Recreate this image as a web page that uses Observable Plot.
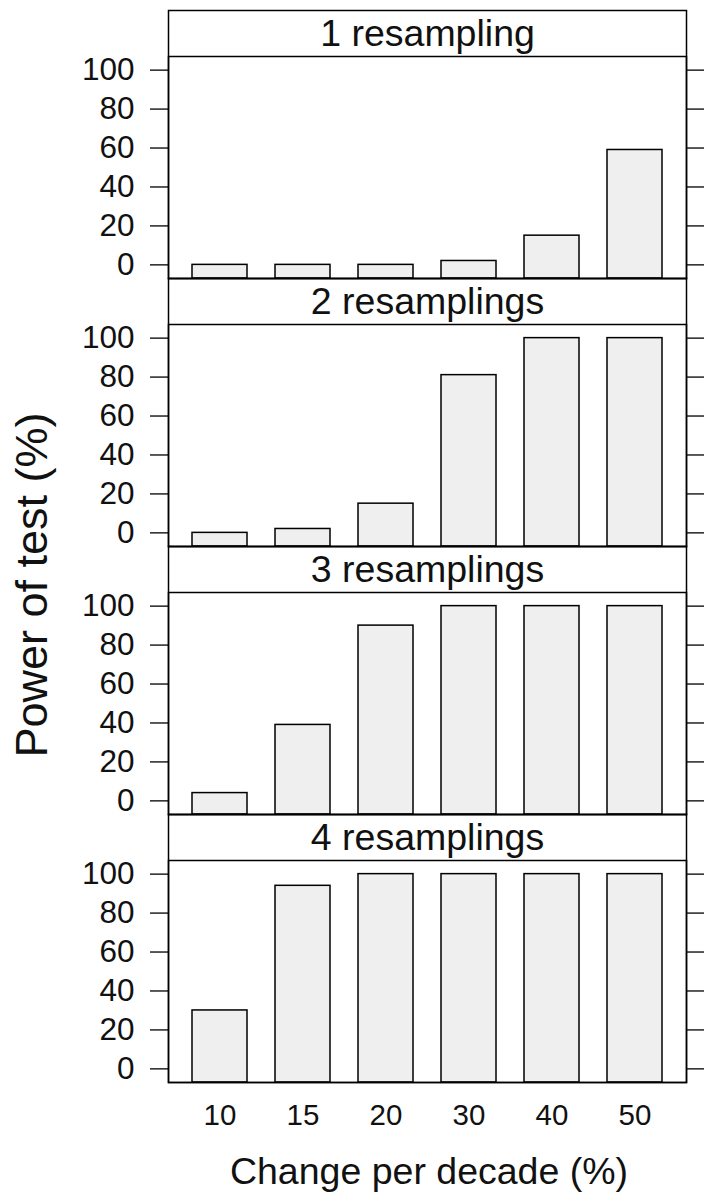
<!DOCTYPE html>
<html>
<head>
<meta charset="utf-8">
<script src="https://cdn.jsdelivr.net/npm/d3@7"></script>
<script src="https://cdn.jsdelivr.net/npm/@observablehq/plot@0.6"></script>
<style>
  body { margin: 0; background: #fff; }
  #chart { width: 704px; height: 1195px; }
</style>
</head>
<body>
<div id="chart"></div>
<script>
// Change per decade (%) categories
const changes = ["10", "15", "20", "30", "40", "50"];
// Panel strip labels, top to bottom
const panels = ["1 resampling", "2 resamplings", "3 resamplings", "4 resamplings"];
// Power of test (%) for each number of resamplings
const power1 = [0, 0, 0, 2, 15, 59];
const power2 = [0, 2, 15, 81, 100, 100];
const power3 = [4, 39, 90, 100, 100, 100];
const power4 = [30, 94, 100, 100, 100, 100];
// Y axis ticks and padded panel limits
const yTicks = [0, 20, 40, 60, 80, 100];
const yLimits = [-7, 107];

const series = [power1, power2, power3, power4];
const rows = panels.flatMap((panel, i) =>
  changes.map((change, j) => ({panel, change, power: series[i][j]}))
);

const font = "'Liberation Sans', Arial, sans-serif";

const chart = Plot.plot({
  width: 704,
  height: 1195,
  marginLeft: 168,
  marginRight: 18,
  marginTop: 54,
  marginBottom: 112,
  style: {fontFamily: font, fontSize: "30px", color: "#111", background: "#fff"},
  x: {domain: changes, paddingInner: 1 / 3, paddingOuter: 0.2667, align: 0.5},
  y: {domain: yLimits},
  fy: {domain: panels, paddingInner: 0.1717, paddingOuter: 0, axis: null},
  marks: [
    // bars rise from the lower panel limit, lattice style
    Plot.barY(rows, {
      x: "change", y1: yLimits[0], y2: "power", fy: "panel",
      fill: "#efefef", stroke: "#000", strokeWidth: 1.5
    }),
    // strip box above each panel, then the panel frame
    Plot.frame({insetTop: -46, stroke: "#000", strokeWidth: 1.5}),
    Plot.frame({stroke: "#000", strokeWidth: 1.5}),
    Plot.text(panels, {
      fy: d => d, text: d => d, frameAnchor: "top", dy: -23,
      lineAnchor: "middle", fontSize: 37.5, fill: "#111"
    }),
    Plot.axisY({ticks: yTicks, tickSize: 18, tickPadding: 16, label: null, fontSize: 31.5, stroke: "#000", strokeWidth: 1.3}),
    Plot.axisY({ticks: yTicks, anchor: "right", tickSize: 18, tickFormat: () => "", label: null, stroke: "#000", strokeWidth: 1.3}),
    Plot.axisX({tickSize: 0, tickPadding: 22, label: null, fontSize: 29.5})
  ]
});

document.getElementById("chart").appendChild(chart);

// axis titles
const svg = d3.select(chart.tagName.toLowerCase() === "svg" ? chart : chart.querySelector("svg"));
svg.append("text")
  .attr("x", 429).attr("y", 1184)
  .attr("text-anchor", "middle")
  .attr("font-family", font).attr("font-size", 37.5).attr("fill", "#111")
  .text("Change per decade (%)");
svg.append("text")
  .attr("transform", "translate(47,585) rotate(-90)")
  .attr("text-anchor", "middle")
  .attr("font-family", font).attr("font-size", 45).attr("fill", "#111")
  .text("Power of test (%)");
</script>
</body>
</html>
